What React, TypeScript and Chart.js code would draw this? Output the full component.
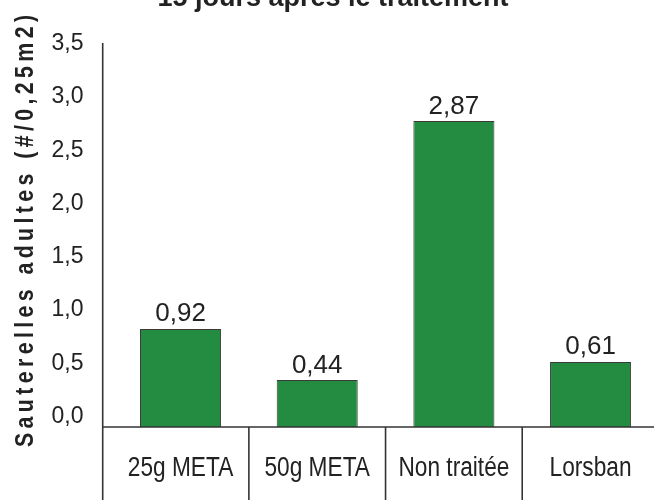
import React, { useEffect, useRef } from 'react';
import Chart from 'chart.js/auto';

const categories = ['25g META', '50g META', 'Non traitée', 'Lorsban'];
const values = [0.92, 0.44, 2.87, 0.61];
const yTicks = [0, 0.5, 1, 1.5, 2, 2.5, 3, 3.5];
const titleText = '15 jours après le traitement';
const yTitleText = 'Sauterelles adultes (#/0,25m2)';

const fmt = (v: number, d: number) => v.toFixed(d).replace('.', ',');

const SHIFT = 20; // canvas is shifted up so the title is cut like the reference
const CW = 690;
const CH = 520;

export default function App() {
  const ref = useRef<HTMLCanvasElement>(null);

  useEffect(() => {
    if (!ref.current) return;
    const plugin = {
      id: 'customDecor',
      afterDraw(chart: any) {
        const ctx = chart.ctx as CanvasRenderingContext2D;
        const xs = chart.scales.x;
        const ys = chart.scales.y;
        const y0 = ys.getPixelForValue(0);
        const yTop = ys.getPixelForValue(3.5);
        const axisX = chart.chartArea.left - 9.5;
        const step = xs.getPixelForValue(1) - xs.getPixelForValue(0);
        ctx.save();
        ctx.strokeStyle = '#333';
        ctx.lineWidth = 1.6;
        ctx.beginPath();
        ctx.moveTo(axisX, yTop - 11);
        ctx.lineTo(axisX, CH);
        ctx.stroke();
        ctx.beginPath();
        ctx.moveTo(axisX, y0);
        ctx.lineTo(CW, y0);
        ctx.stroke();
        categories.forEach((_, i) => {
          const sx = xs.getPixelForValue(i) + step / 2;
          ctx.beginPath();
          ctx.moveTo(sx, y0);
          ctx.lineTo(sx, CH);
          ctx.stroke();
        });

        ctx.fillStyle = '#222';
        // y tick labels
        ctx.font = '23px "Liberation Sans", Arial, sans-serif';
        ctx.textAlign = 'right';
        ctx.textBaseline = 'alphabetic';
        yTicks.forEach((v) => {
          ctx.fillText(fmt(v, 1), 83.5, ys.getPixelForValue(v) - 4);
        });

        // data labels
        ctx.font = '26px "Liberation Sans", Arial, sans-serif';
        ctx.textAlign = 'center';
        values.forEach((v, i) => {
          ctx.fillText(fmt(v, 2), xs.getPixelForValue(i), ys.getPixelForValue(v) - 7.5);
        });

        // category labels (condensed look)
        ctx.font = '27px "Liberation Sans", Arial, sans-serif';
        categories.forEach((c, i) => {
          ctx.save();
          ctx.translate(xs.getPixelForValue(i), 476 + SHIFT);
          ctx.scale(0.84, 1);
          ctx.fillText(c, 0, 0);
          ctx.restore();
        });

        // title
        ctx.font = 'bold 27px "Liberation Sans", Arial, sans-serif';
        ctx.fillText(titleText, 333, 6 + SHIFT);

        // y axis title with letter spacing, condensed bold
        ctx.font = 'bold 26px "Liberation Sans", Arial, sans-serif';
        (ctx as any).letterSpacing = '0px';
        const cond = 0.82;
        const w0 = ctx.measureText(yTitleText).width * cond;
        const target = 432;
        const sp = (target - w0) / (yTitleText.length - 1) / cond;
        (ctx as any).letterSpacing = sp + 'px';
        ctx.translate(33, 231 + SHIFT);
        ctx.rotate(-Math.PI / 2);
        ctx.scale(cond, 1);
        ctx.textAlign = 'left';
        ctx.fillText(yTitleText, -target / 2 / cond, 0);
        ctx.restore();
      },
    };

    const chart = new Chart(ref.current, {
      type: 'bar',
      data: {
        labels: categories,
        datasets: [
          {
            data: values,
            backgroundColor: '#238c41',
            borderColor: '#3a3a3a',
            borderWidth: 1,
            barPercentage: 0.593,
            categoryPercentage: 1,
          },
        ],
      },
      options: {
        responsive: false,
        animation: false,
        devicePixelRatio: 1,
        layout: {
          padding: { left: 112.2, right: CW - 658.9, top: 53.9 + SHIFT, bottom: CH - (427 + SHIFT) },
        },
        plugins: { legend: { display: false }, tooltip: { enabled: false }, title: { display: false } },
        scales: {
          x: { display: false },
          y: { display: false, min: 0, max: 3.5 },
        },
      },
      plugins: [plugin],
    });
    return () => chart.destroy();
  }, []);

  return (
    <div style={{ position: 'fixed', left: 0, top: 0, width: 654, height: 500, overflow: 'hidden', background: '#fff' }}>
      <canvas
        ref={ref}
        width={CW}
        height={CH}
        style={{ position: 'absolute', left: 0, top: -SHIFT, width: CW, height: CH }}
      />
    </div>
  );
}
